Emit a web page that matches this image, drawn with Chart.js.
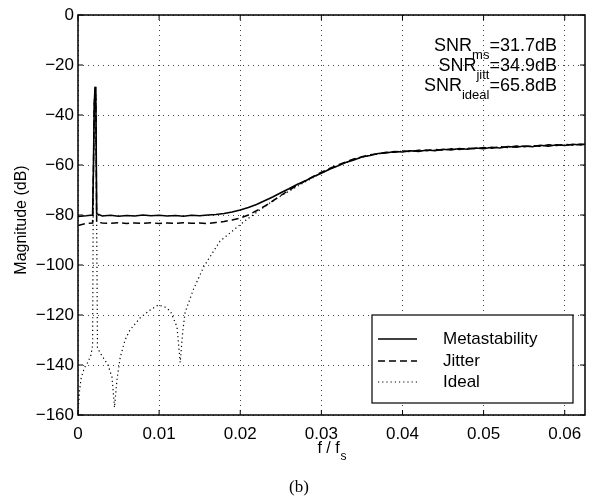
<!DOCTYPE html>
<html lang="en">
<head>
<meta charset="UTF-8">
<title>Magnitude spectrum</title>
<script src="https://cdn.jsdelivr.net/npm/chart.js"></script>
<style>
  body { margin: 0; background: #fff; }
  #chart-container { width: 595px; height: 498px; position: relative; }
</style>
</head>
<body>
<div id="chart-container"><canvas id="specChart"></canvas></div>
<script>
// frequency grid (f / fs) shared by metastability and jitter curves
const freqMain = [0, 0.001, 0.0018, 0.0019, 0.002, 0.0021, 0.0022, 0.0023, 0.003,
  0.004, 0.005, 0.006, 0.007, 0.008, 0.009, 0.010, 0.011, 0.012, 0.013, 0.014, 0.015,
  0.016, 0.017, 0.018, 0.019, 0.020, 0.021, 0.022, 0.023, 0.024, 0.025, 0.026, 0.027,
  0.028, 0.029, 0.030, 0.031, 0.032, 0.033, 0.034, 0.035, 0.036, 0.037, 0.038, 0.039,
  0.040, 0.041, 0.042, 0.043, 0.044, 0.045, 0.046, 0.047, 0.048, 0.049, 0.050, 0.051,
  0.052, 0.053, 0.054, 0.055, 0.056, 0.057, 0.058, 0.059, 0.060, 0.061, 0.062, 0.0625];

const metaDb = [-80.6, -80.3, -80.0, -62, -36, -28.7, -33, -79.5, -80.4,
  -80.1, -80.5, -80.2, -80.4, -80.0, -80.3, -80.1, -80.4, -80.2, -80.5, -80.1, -80.3,
  -80.0, -79.8, -79.4, -78.8, -78.0, -77.0, -75.8, -74.3, -72.8, -71.1, -69.5, -67.8,
  -66.4, -64.7, -63.3, -61.7, -60.4, -59.0, -58.0, -56.8, -56.2, -55.4, -55.2, -54.6,
  -54.8, -54.3, -54.6, -54.0, -54.3, -53.7, -54.0, -53.4, -53.7, -53.2, -53.5, -52.9,
  -53.2, -52.6, -52.9, -52.4, -52.7, -52.1, -52.5, -51.9, -52.2, -51.7, -52.0, -51.6];

const jitterDb = [-84.2, -83.4, -83.2, -63, -37, -29.5, -34, -82.8, -83.2,
  -83.3, -83.1, -83.4, -83.2, -83.3, -83.1, -83.4, -83.2, -83.3, -83.1, -83.3, -83.2,
  -83.4, -83.0, -82.6, -82.0, -81.2, -80.0, -78.3, -76.5, -74.4, -72.2, -70.1, -68.2,
  -66.3, -64.6, -62.9, -61.4, -60.0, -58.8, -57.6, -56.7, -55.9, -55.5, -54.9, -54.9,
  -54.4, -54.6, -54.1, -54.3, -53.8, -54.1, -53.5, -53.8, -53.3, -53.5, -53.0, -53.3,
  -52.7, -53.0, -52.4, -52.7, -52.2, -52.5, -51.9, -52.2, -51.8, -52.0, -51.6, -51.9];

const freqIdeal = [0, 0.0002, 0.0004, 0.0008, 0.0012, 0.0016, 0.0018, 0.0019, 0.002,
  0.0021, 0.0022, 0.0024, 0.0027, 0.0033, 0.0037, 0.0042, 0.0045, 0.0048, 0.0052,
  0.0058, 0.0064, 0.0077, 0.0089, 0.0099, 0.0107, 0.0114, 0.0122, 0.0126, 0.0129,
  0.0132, 0.0142, 0.0155, 0.0171, 0.0175, 0.019, 0.0205, 0.022, 0.0235, 0.025, 0.026,
  0.027, 0.028, 0.029, 0.030, 0.032, 0.034, 0.036, 0.038, 0.040, 0.044, 0.048, 0.052,
  0.056, 0.060, 0.0625];

const idealDb = [-159, -150, -145, -141, -139, -136, -132, -62, -36,
  -28.7, -33, -133, -135, -138, -140, -145, -157, -146, -137,
  -130, -126, -121, -118, -116, -116.8, -118.5, -124.7, -139, -127,
  -119, -110, -100.7, -92.5, -90.5, -86.5, -82.5, -79, -75.5, -72.4, -70.5,
  -68.6, -66.8, -65.0, -63.2, -60.2, -57.8, -56.0, -55.0, -54.5, -54.0, -53.4, -52.9,
  -52.4, -52.0, -51.8];

const seriesNames = ['Metastability', 'Jitter', 'Ideal'];
const snrLines = [
  ['SNR', 'ms', '=31.7dB'],
  ['SNR', 'jitt', '=34.9dB'],
  ['SNR', 'ideal', '=65.8dB']
];

const FONT = "'Liberation Sans', Arial, sans-serif";

function toPoints(xs, ys) {
  return xs.map((x, i) => ({ x: x, y: ys[i] }));
}

const decorations = {
  id: 'decorations',
  afterDraw(chart) {
    const ctx = chart.ctx;
    const area = chart.chartArea;
    const xs = chart.scales.x;
    const ys = chart.scales.y;
    ctx.save();

    // frame
    ctx.strokeStyle = '#000';
    ctx.lineWidth = 1.5;
    ctx.setLineDash([]);
    ctx.strokeRect(area.left, area.top, area.right - area.left, area.bottom - area.top);

    // inward ticks on all four sides
    ctx.lineWidth = 1;
    ctx.beginPath();
    xs.ticks.forEach(t => {
      const px = xs.getPixelForValue(t.value);
      ctx.moveTo(px, area.bottom); ctx.lineTo(px, area.bottom - 5);
      ctx.moveTo(px, area.top); ctx.lineTo(px, area.top + 5);
    });
    ys.ticks.forEach(t => {
      const py = ys.getPixelForValue(t.value);
      ctx.moveTo(area.left, py); ctx.lineTo(area.left + 5, py);
      ctx.moveTo(area.right, py); ctx.lineTo(area.right - 5, py);
    });
    ctx.stroke();

    ctx.fillStyle = '#000';

    // SNR annotations, right aligned
    const rightX = 557;
    snrLines.forEach((parts, i) => {
      const base = 51 + i * 20;
      ctx.font = '18px ' + FONT;
      const w0 = ctx.measureText(parts[0]).width;
      const w2 = ctx.measureText(parts[2]).width;
      ctx.font = '13px ' + FONT;
      const w1 = ctx.measureText(parts[1]).width;
      let x = rightX - w0 - w1 - w2;
      ctx.textAlign = 'left';
      ctx.textBaseline = 'alphabetic';
      ctx.font = '18px ' + FONT;
      ctx.fillText(parts[0], x, base);
      x += w0;
      ctx.font = '13px ' + FONT;
      ctx.fillText(parts[1], x, base + 8);
      x += w1;
      ctx.font = '18px ' + FONT;
      ctx.fillText(parts[2], x, base);
    });

    // legend box
    const lg = { left: 372, top: 315, right: 573, bottom: 403 };
    ctx.fillStyle = '#fff';
    ctx.fillRect(lg.left, lg.top, lg.right - lg.left, lg.bottom - lg.top);
    ctx.strokeStyle = '#000';
    ctx.lineWidth = 1.2;
    ctx.strokeRect(lg.left, lg.top, lg.right - lg.left, lg.bottom - lg.top);
    const rowY = [339, 361, 382];
    chart.data.datasets.forEach((ds, i) => {
      ctx.strokeStyle = ds.borderColor;
      ctx.lineWidth = ds.borderWidth;
      ctx.setLineDash(ds.borderDash || []);
      ctx.beginPath();
      ctx.moveTo(378, rowY[i]);
      ctx.lineTo(417, rowY[i]);
      ctx.stroke();
      ctx.setLineDash([]);
      ctx.fillStyle = '#000';
      ctx.font = '17px ' + FONT;
      ctx.textAlign = 'left';
      ctx.textBaseline = 'middle';
      ctx.fillText(ds.label, 443, rowY[i]);
    });

    // y axis title
    ctx.save();
    ctx.translate(22, 220);
    ctx.rotate(-Math.PI / 2);
    ctx.font = '16px ' + FONT;
    ctx.textAlign = 'center';
    ctx.textBaseline = 'middle';
    ctx.fillText('Magnitude (dB)', 0, 0);
    ctx.restore();

    // x axis title f / f_s
    ctx.font = '16px ' + FONT;
    const mainW = ctx.measureText('f / f').width;
    ctx.font = '12px ' + FONT;
    const subW = ctx.measureText('s').width;
    let tx = (area.left + area.right) / 2 - (mainW + subW) / 2;
    ctx.textAlign = 'left';
    ctx.textBaseline = 'alphabetic';
    ctx.font = '16px ' + FONT;
    ctx.fillText('f / f', tx, 453);
    ctx.font = '12px ' + FONT;
    ctx.fillText('s', tx + mainW + 1, 460);

    // panel label
    ctx.font = "17px 'Liberation Serif', 'Times New Roman', serif";
    ctx.textAlign = 'center';
    ctx.fillText('(b)', 299, 492);

    ctx.restore();
  }
};

const ctx = document.getElementById('specChart').getContext('2d');
new Chart(ctx, {
  type: 'line',
  data: {
    datasets: [
      {
        label: seriesNames[0],
        data: toPoints(freqMain, metaDb),
        borderColor: '#000',
        borderWidth: 1.6,
        pointRadius: 0,
        fill: false
      },
      {
        label: seriesNames[1],
        data: toPoints(freqMain, jitterDb),
        borderColor: '#000',
        borderWidth: 1.5,
        borderDash: [7, 4],
        pointRadius: 0,
        fill: false
      },
      {
        label: seriesNames[2],
        data: toPoints(freqIdeal, idealDb),
        borderColor: '#000',
        borderWidth: 1.2,
        borderDash: [1.2, 3],
        pointRadius: 0,
        fill: false
      }
    ]
  },
  options: {
    responsive: true,
    maintainAspectRatio: false,
    animation: false,
    layout: { padding: { top: 15, right: 10, left: 0, bottom: 0 } },
    plugins: {
      legend: { display: false },
      tooltip: { enabled: false }
    },
    scales: {
      x: {
        type: 'linear',
        min: 0,
        max: 0.0625,
        afterFit: s => { s.height = 83; },
        ticks: {
          stepSize: 0.01,
          includeBounds: false,
          autoSkip: false,
          maxRotation: 0,
          color: '#000',
          padding: 9,
          font: { family: FONT, size: 17 },
          callback: v => String(Math.round(v * 100) / 100)
        },
        grid: { color: '#444', lineWidth: 1, drawTicks: false },
        border: { display: false, dash: [1, 4] }
      },
      y: {
        min: -160,
        max: 0,
        afterFit: s => { s.width = 78; },
        ticks: {
          stepSize: 20,
          autoSkip: false,
          color: '#000',
          padding: 4,
          font: { family: FONT, size: 17 },
          callback: v => (v < 0 ? '\u2212' + Math.abs(v) : String(v))
        },
        grid: { color: '#444', lineWidth: 1, drawTicks: false },
        border: { display: false, dash: [1, 4] }
      }
    }
  },
  plugins: [decorations]
});
</script>
</body>
</html>
